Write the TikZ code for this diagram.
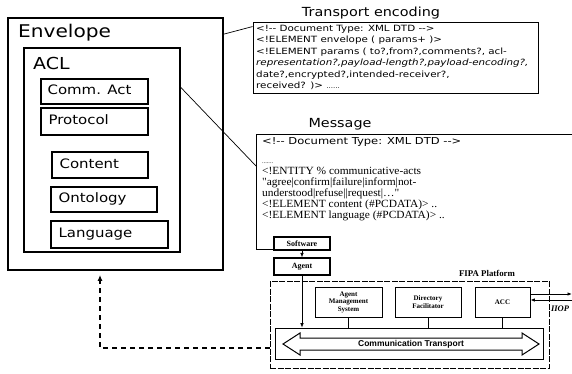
\documentclass[tikz,border=0pt]{standalone}
\usepackage{fontspec}
\setmainfont{Liberation Serif}
\newfontfamily\boxfont[FakeStretch=1.15]{DejaVu Sans}
\newfontfamily\codesans[FakeStretch=1.2]{DejaVu Sans}
\newfontfamily\codeserif[FakeStretch=1.04]{Liberation Serif}
\newfontfamily\platserif{Liberation Serif}
\newfontfamily\platsans{Liberation Sans}
\usetikzlibrary{arrows.meta}

\tikzset{
  frame/.style={draw, line width=#1, inner sep=0pt},
  partbox/.style={draw, line width=1.2pt, inner sep=0pt},
  boxlabel/.style={inner sep=0pt, anchor=west, font=\boxfont\fontsize{13}{13}\selectfont,
    text height=9.5pt, text depth=3pt},
  title/.style={inner sep=0pt, font=\boxfont\fontsize{12.5}{12.5}\selectfont},
  tline/.style={inner sep=0pt, anchor=west, font=\codesans\fontsize{8.6}{8.6}\selectfont,
    text height=6.3pt, text depth=2.2pt},
  mhead/.style={inner sep=0pt, anchor=west, font=\codesans\fontsize{9.6}{9.6}\selectfont,
    text height=7pt, text depth=2.5pt},
  mline/.style={inner sep=0pt, anchor=west, font=\codeserif\fontsize{11}{11}\selectfont,
    text height=7.7pt, text depth=2.7pt},
  solidbox/.style={draw, line width=1.1pt, fill=white, inner sep=0pt,
    font=\platserif\bfseries\fontsize{8}{8}\selectfont},
  platbox/.style={draw, line width=0.7pt, fill=white, inner sep=0pt, align=center,
    font=\platserif\bfseries\fontsize{7}{7.5}\selectfont},
  conn/.style={line width=0.7pt},
  tip/.style={-{Latex[length=4.5pt,width=3.5pt]}},
}

\begin{document}
\begin{tikzpicture}[x=1pt,y=-1pt]
\useasboundingbox (0,0) rectangle (572,373);

% ---------------- message structure (left) ----------------
\node[frame=1.8pt, minimum width=215pt, minimum height=252pt] (env) at (115.5,144) {};
\node[inner sep=0pt, anchor=west, font=\boxfont\fontsize{17.5}{17.5}\selectfont] (envlbl) at (18,33) {Envelope};
\node[frame=1.4pt, minimum width=156pt, minimum height=204pt] (acl) at (102,150) {};
\node[inner sep=0pt, anchor=west, font=\boxfont\fontsize{16.5}{16.5}\selectfont] (acllbl) at (33,63) {ACL};

\node[partbox, minimum width=107pt, minimum height=25pt] (comm) at (94.5,91.5) {};
\node[boxlabel] (commlbl) at ([xshift=7pt]comm.west) {Comm. Act};
\node[partbox, minimum width=107pt, minimum height=27pt] (proto) at (94.5,121.5) {};
\node[boxlabel] (protolbl) at ([xshift=8pt]proto.west) {Protocol};
\node[partbox, minimum width=96pt, minimum height=26pt] (cont) at (100,165) {};
\node[boxlabel] (contlbl) at ([xshift=8pt]cont.west) {Content};
\node[partbox, minimum width=106pt, minimum height=25pt] (onto) at (104,199.5) {};
\node[boxlabel] (ontolbl) at ([xshift=8pt]onto.west) {Ontology};
\node[partbox, minimum width=117pt, minimum height=27pt] (lang) at (109.5,234.5) {};
\node[boxlabel] (langlbl) at ([xshift=8pt]lang.west) {Language};

% ---------------- transport encoding ----------------
\node[title] (ttitle) at (371,13) {Transport encoding};
\node[frame=0.9pt, minimum width=285pt, minimum height=71pt] (tbox) at (395.5,57.5) {};
\foreach \txt [count=\i] in {
  {<!-{}- Document Type: XML DTD -{}->},
  {<!ELEMENT envelope ( params+ )>},
  {<!ELEMENT params ( to?,from?,comments?, acl-},
  {\itshape representation?,payload-length?,payload-encoding?,},
  {date?,encrypted?,intended-receiver?,},
  {received? )> {\fontsize{6}{6}\selectfont ......}}}
  \node[tline] (tl\i) at (256,{29+(\i-1)*11.5}) {\txt};
\draw[conn] ([yshift=-17pt]env.north east) -- ([yshift=-5pt]tbox.north west);

% ---------------- message encoding ----------------
\node[title] (mtitle) at (340,124) {Message};
\node[solidbox, minimum width=56pt, minimum height=13pt] (sw) at (302,243.5) {Software};
\node[minimum width=315pt, minimum height=114pt, inner sep=0pt] (msg) at (414.5,192) {};
\draw[line width=0.9pt] (msg.north east) -- (msg.north west) -- (msg.south west) -- (msg.south west -| sw.west);
\node[mhead] (mh) at (262,142) {<!-{}- Document Type: XML DTD -{}->};
\foreach \txt [count=\i] in {
  {{\fontsize{6}{6}\selectfont .......}},
  {<!ENTITY \% communicative-acts},
  {"agree|confirm|failure|inform|not-},
  {understood|refuse||request|…"},
  {<!ELEMENT content (\#PCDATA)> ..},
  {<!ELEMENT language (\#PCDATA)> ..}}
  \node[mline] (ml\i) at (262,{161+(\i-1)*11}) {\txt};
\draw[conn] ([yshift=-40pt]acl.north east) -- ([yshift=-32pt]msg.north west);

% ---------------- FIPA platform ----------------
\node[solidbox, minimum width=56pt, minimum height=17pt] (ag) at (302,266.5) {Agent};
\draw[conn, tip] (sw.south) -- (ag.north);

\node[inner sep=0pt, font=\platserif\bfseries\fontsize{8.8}{8.8}\selectfont] (fipalbl) at (487,273) {FIPA Platform};
\node[draw, line width=0.9pt, dash pattern=on 6pt off 1.5pt, minimum width=279pt, minimum height=87pt, inner sep=0pt] (plat) at (409.5,324.5) {};

\node[platbox, minimum width=67pt, minimum height=30pt] (ams) at (348.5,302) {Agent\\Management\\System};
\node[platbox, minimum width=66pt, minimum height=30pt] (df) at (428,302) {Directory\\Facilitator};
\node[platbox, minimum width=55pt, minimum height=30pt] (acc) at (502.5,302) {ACC};

\node[draw, line width=0.7pt, minimum width=268pt, minimum height=31pt, inner sep=0pt] (ct) at (409,343.5) {};
\draw[line width=1pt, fill=white] (283,344) -- (300,333) -- (300,338) -- (522,338) -- (522,333)
  -- (539,344) -- (522,355) -- (522,350) -- (300,350) -- (300,355) -- cycle;
\node[inner sep=0pt, font=\platsans\bfseries\fontsize{8.5}{8.5}\selectfont] (ctlbl) at (411,344) {Communication Transport};

\draw[conn] (ams.south) -- (ams.south |- ct.north);
\draw[conn] (df.south) -- (df.south |- ct.north);
\draw[conn] (acc.south) -- (acc.south |- ct.north);
\draw[conn, tip] (ag.south) -- (ag.south |- ct.north);

% IIOP link leaving the platform
\coordinate (iiopout) at (572,294);
\coordinate (iiopin) at (572,300);
\draw[line width=0.9pt, tip] (acc.east |- iiopout) -- (iiopout);
\draw[line width=0.9pt, tip] (iiopin) -- (acc.east |- iiopin);
\node[inner sep=0pt, font=\platserif\bfseries\itshape\fontsize{8.5}{8.5}\selectfont] (iioplbl) at (560,309) {IIOP};

% dashed return path to the envelope
\coordinate (dturn) at (100,348);
\draw[line width=1.3pt, dash pattern=on 5pt off 4pt, -{Latex[length=6pt,width=5pt]}, shorten >=4pt]
  (plat.west |- dturn) -- (dturn) -- (dturn |- env.south);
\end{tikzpicture}
\end{document}
